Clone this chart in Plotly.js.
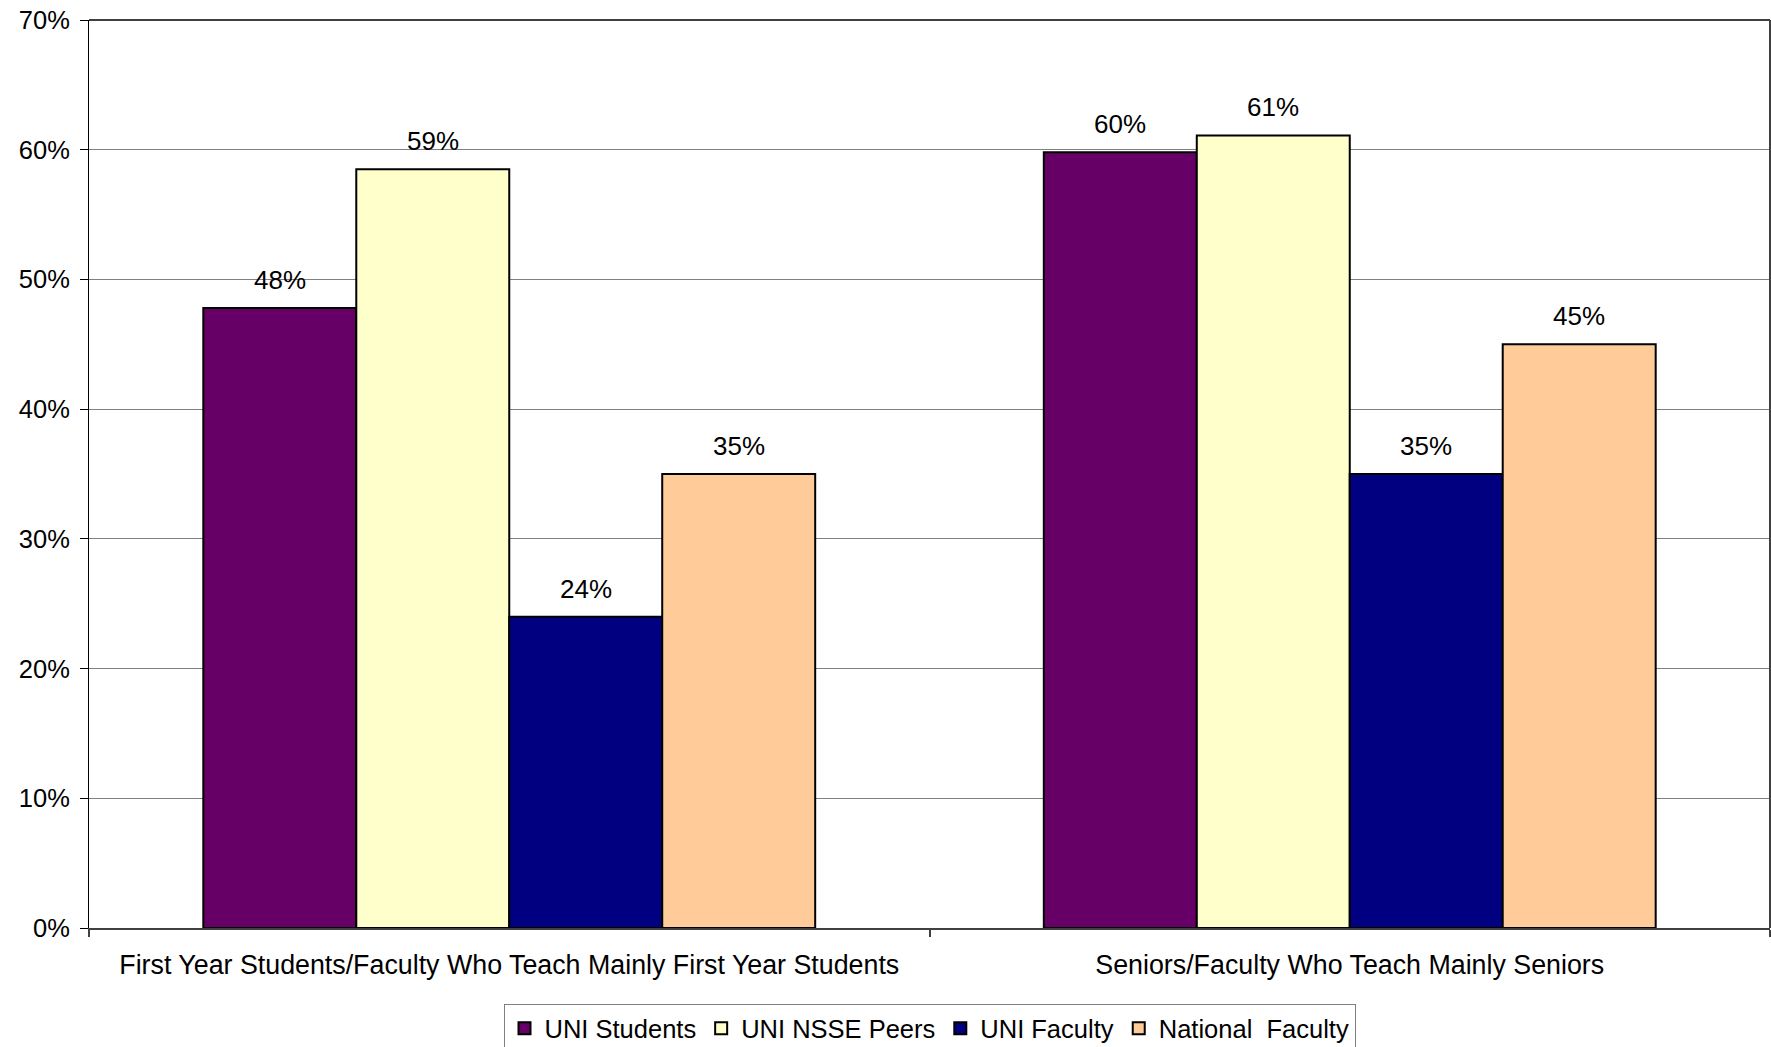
<!DOCTYPE html>
<html>
<head>
<meta charset="utf-8">
<script src="https://cdn.plot.ly/plotly-3.0.1.min.js"></script>
<style>
html,body{margin:0;padding:0;background:#fff;overflow:hidden;}
#chart{width:1771px;height:1047px;}
</style>
</head>
<body>
<div id="chart"></div>
<script>
var categories = [
  "First Year Students/Faculty Who Teach Mainly First Year Students",
  "Seniors/Faculty Who Teach Mainly Seniors"
];
var seriesNames = ["UNI Students", "UNI NSSE Peers", "UNI Faculty", "National  Faculty"];
var uniStudents = [47.8, 59.8];
var uniPeers = [58.5, 61.1];
var uniFaculty = [24.0, 35.0];
var nationalFaculty = [35.0, 45.0];
var uniStudentsLabels = ["48%", "60%"];
var uniPeersLabels = ["59%", "61%"];
var uniFacultyLabels = ["24%", "35%"];
var nationalFacultyLabels = ["35%", "45%"];
var yTickVals = [0, 10, 20, 30, 40, 50, 60, 70];
var yTickText = ["0%", "10%", "20%", "30%", "40%", "50%", "60%", "70%"];

var colors = ["#660066", "#FFFFCC", "#000080", "#FFCC99"];
var values = [uniStudents, uniPeers, uniFaculty, nationalFaculty];
var labels = [uniStudentsLabels, uniPeersLabels, uniFacultyLabels, nationalFacultyLabels];
var FONT = "'Liberation Sans', Arial, sans-serif";
var BARGAP = 0.272;

var traces = seriesNames.map(function (name, i) {
  return {
    type: "bar",
    name: name,
    x: categories,
    y: values[i],
    marker: {color: colors[i], line: {color: "#000", width: 2}},
    hoverinfo: "skip"
  };
});

// value labels placed above each bar, positioned via the category axis
var nSeries = seriesNames.length;
var barW = (1 - BARGAP) / nSeries;
var annotations = [];
values.forEach(function (vals, i) {
  vals.forEach(function (v, j) {
    annotations.push({
      xref: "x", yref: "y",
      x: j - (1 - BARGAP) / 2 + barW * (i + 0.5),
      y: v,
      text: labels[i][j],
      showarrow: false,
      xanchor: "center", yanchor: "bottom",
      yshift: 11,
      font: {family: FONT, size: 26, color: "#000"}
    });
  });
});

var layout = {
  width: 1771,
  height: 1047,
  margin: {l: 89, r: 1, t: 20, b: 119},
  paper_bgcolor: "#fff",
  plot_bgcolor: "#fff",
  font: {family: FONT, size: 25, color: "#000"},
  barmode: "group",
  bargap: BARGAP,
  bargroupgap: 0,
  showlegend: true,
  legend: {
    orientation: "h",
    xref: "paper", yref: "container",
    x: 0.5, xanchor: "center",
    y: 0.041, yanchor: "top",
    bordercolor: "#808080", borderwidth: 1,
    bgcolor: "#fff",
    itemwidth: 30,
    font: {family: FONT, size: 25.5, color: "#000"},
    itemclick: false
  },
  xaxis: {
    type: "category",
    showgrid: false,
    showline: true, linecolor: "#404040", linewidth: 2,
    ticks: "outside", tickson: "boundaries", ticklen: 7, tickcolor: "#404040", tickwidth: 2,
    ticklabelstandoff: 12,
    tickfont: {family: FONT, size: 26.8, color: "#000"},
    fixedrange: true
  },
  yaxis: {
    range: [0, 70],
    tickvals: yTickVals,
    ticktext: yTickText,
    showgrid: true, gridcolor: "#808080", gridwidth: 1,
    zeroline: false,
    showline: true, linecolor: "#000", linewidth: 1,
    ticks: "outside", ticklen: 8, tickcolor: "#000", tickwidth: 1,
    ticklabelstandoff: 5,
    tickfont: {family: FONT, size: 25.5, color: "#000"},
    fixedrange: true
  },
  annotations: annotations,
  shapes: [
    {type: "line", xref: "paper", yref: "paper", x0: 0, x1: 1, y0: 1, y1: 1, line: {color: "#000", width: 1.5}},
    {type: "line", xref: "paper", yref: "paper", x0: 1, x1: 1, y0: 0, y1: 1, line: {color: "#404040", width: 2}}
  ]
};

Plotly.newPlot("chart", traces, layout, {displayModeBar: false, staticPlot: true});
</script>
</body>
</html>
